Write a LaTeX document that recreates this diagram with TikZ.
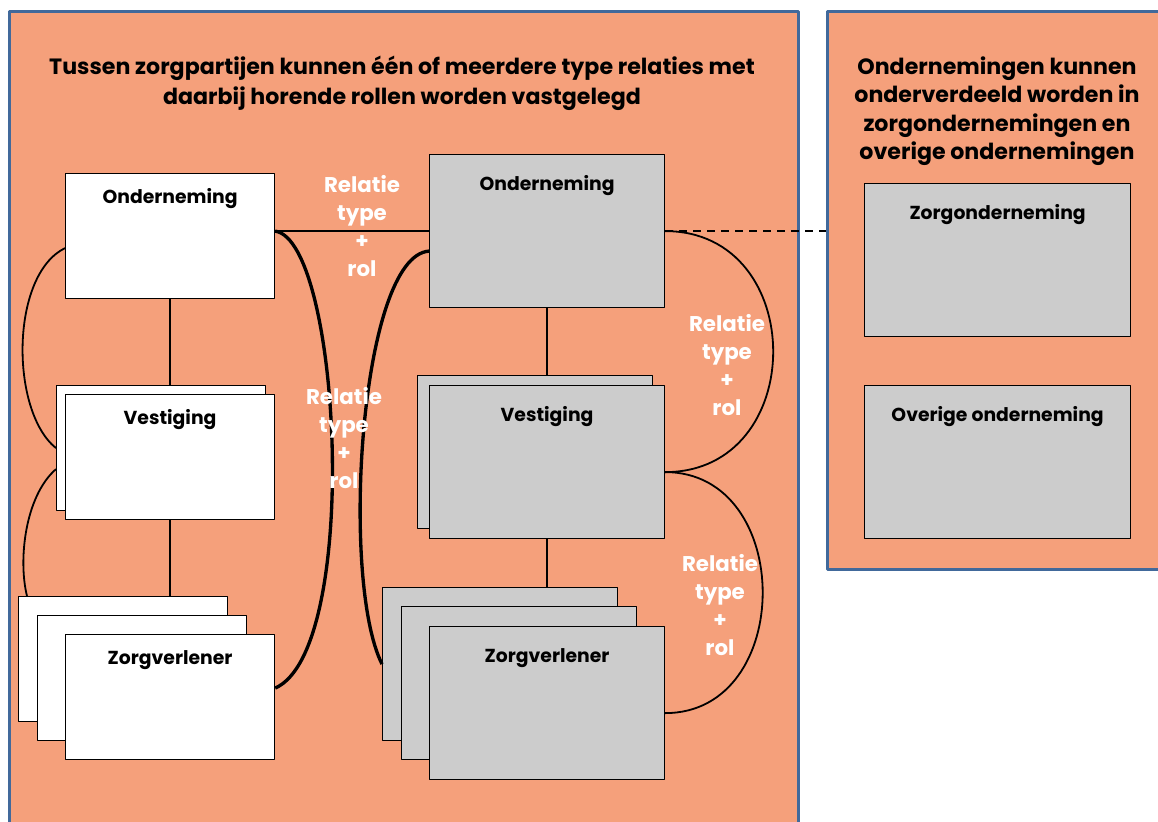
\documentclass[tikz,border=0pt]{standalone}
\usepackage{fontspec}
\setmainfont{Poppins}
\usetikzlibrary{positioning, calc}
\definecolor{panelfill}{RGB}{245,160,123}
\definecolor{panelline}{RGB}{65,105,155}
\definecolor{boxgray}{RGB}{204,204,204}
\tikzset{panel/.style={
        draw=panelline,
        line width=2.2pt,
        fill=panelfill,
        rectangle,
        anchor=north west,
        inner sep=0pt
}}
\tikzset{whitebox/.style={
        draw,
        fill=white,
        line width=0.9pt,
        anchor=north west,
        minimum width=156.75pt,
        minimum height=93.75pt,
        inner sep=0pt
}}
\tikzset{graybox/.style={
        whitebox,
        fill=boxgray,
        minimum width=176.25pt,
        minimum height=114.75pt
}}
\tikzset{sidebox/.style={graybox, minimum width=199.5pt}}
\tikzset{boxtext/.style={font=\bfseries\fontsize{14.1pt}{18pt}\selectfont, anchor=base, inner sep=0pt}}
\tikzset{titletext/.style={font=\bfseries\fontsize{16.6pt}{22.5pt}\selectfont, align=center}}
\tikzset{sidetitle/.style={font=\bfseries\fontsize{16.6pt}{21.4pt}\selectfont, align=center}}
\tikzset{reltext/.style={font=\bfseries\fontsize{16pt}{21pt}\selectfont, align=center, text=white}}
\tikzset{link/.style={draw, line width=1.35pt}}
\tikzset{thicklink/.style={draw, line width=2.5pt}}

\begin{document}
\begin{tikzpicture}[x=0.75pt, y=-0.75pt, line join=round]
\useasboundingbox (0,0) rectangle (1158,822);
% panels
\node[panel, minimum width=591.75pt, minimum height=622.5pt] (lpanel) at (8,10) {};
\node[panel, minimum width=262.5pt, minimum height=418.5pt] (rpanel) at (826,10) {};
\node[titletext] (ltitle) at (402,83) {Tussen zorgpartijen kunnen één of meerdere type relaties met\\daarbij horende rollen worden vastgelegd};
\node[sidetitle] (rtitle) at (997,111) {Ondernemingen kunnen\\onderverdeeld worden in\\zorgondernemingen en\\overige ondernemingen};

% left column
\node[whitebox, label={[boxtext, yshift=-22.5pt]north:Onderneming}] (lond) at (65,173) {};
\node[whitebox] (lvestb) at (56,385) {};
\node[whitebox, label={[boxtext, yshift=-22.5pt]north:Vestiging}] (lvest) at (65,394) {};
\node[whitebox] (lzorgc) at (18,596) {};
\node[whitebox] (lzorgb) at (37,615) {};
\node[whitebox, label={[boxtext, yshift=-22.5pt]north:Zorgverlener}] (lzorg) at (65,634) {};

% middle column
\node[graybox, label={[boxtext, yshift=-27pt]north:Onderneming}] (mond) at (429,154) {};
\node[graybox] (mvestb) at (417,375) {};
\node[graybox, label={[boxtext, yshift=-27pt]north:Vestiging}] (mvest) at (429,385) {};
\node[graybox] (mzorgc) at (382,587) {};
\node[graybox] (mzorgb) at (401,606) {};
\node[graybox, label={[boxtext, yshift=-27pt]north:Zorgverlener}] (mzorg) at (429,626) {};

% right panel
\node[sidebox, label={[boxtext, yshift=-27pt]north:Zorgonderneming}] (rzorg) at (864,183) {};
\node[sidebox, label={[boxtext, yshift=-27pt]north:Overige onderneming}] (rovrg) at (864,385) {};

% hierarchy
\draw[link] (lond.south) -- (lond.south |- lvestb.north);
\draw[link] (lvest.south) -- (lvest.south |- lzorgc.north);
\draw[link] (mond.south) -- (mond.south |- mvestb.north);
\draw[link] (mvest.south) -- (mvest.south |- mzorgc.north);

% relations
\draw[link] (mond.west -| lond.east) -- (mond.west);
\draw[link, dash pattern=on 6pt off 4.5pt] (mond.east) -- (mond.east -| rpanel.west);
\draw[thicklink] (mond.west -| lond.east) .. controls +(66,10) and +(86,-38) .. ($(lzorg.east)+(0,-9)$);
\draw[thicklink] ($(mond.west)+(0,20)$) .. controls +(-69,5) and +(-42,-84) .. (mzorgc.west);
\draw[link] ($(lond.west)+(0,12)$) .. controls +(-55,27) and +(-46,-37) .. (lvestb.west);
\draw[link] ($(lvestb.west)+(0,21)$) .. controls +(-31,27) and +(-9,-36) .. ($(lzorgc.north west)+(9,0)$);
\draw[link] (mond.east) .. controls +(144,0) and +(144,0) .. ($(mvest.east)+(0,10)$);
\draw[link] ($(mvest.east)+(0,10)$) .. controls +(130,0) and +(130,0) .. ($(mzorg.east)+(0,10)$);

\node[reltext] (rel1) at (362,226) {Relatie\\type\\+\\rol};
\node[reltext] (rel2) at (344,438) {Relatie\\type\\+\\rol};
\node[reltext] (rel3) at (727,365) {Relatie\\type\\+\\rol};
\node[reltext] (rel4) at (720,605) {Relatie\\type\\+\\rol};
\end{tikzpicture}
\end{document}
